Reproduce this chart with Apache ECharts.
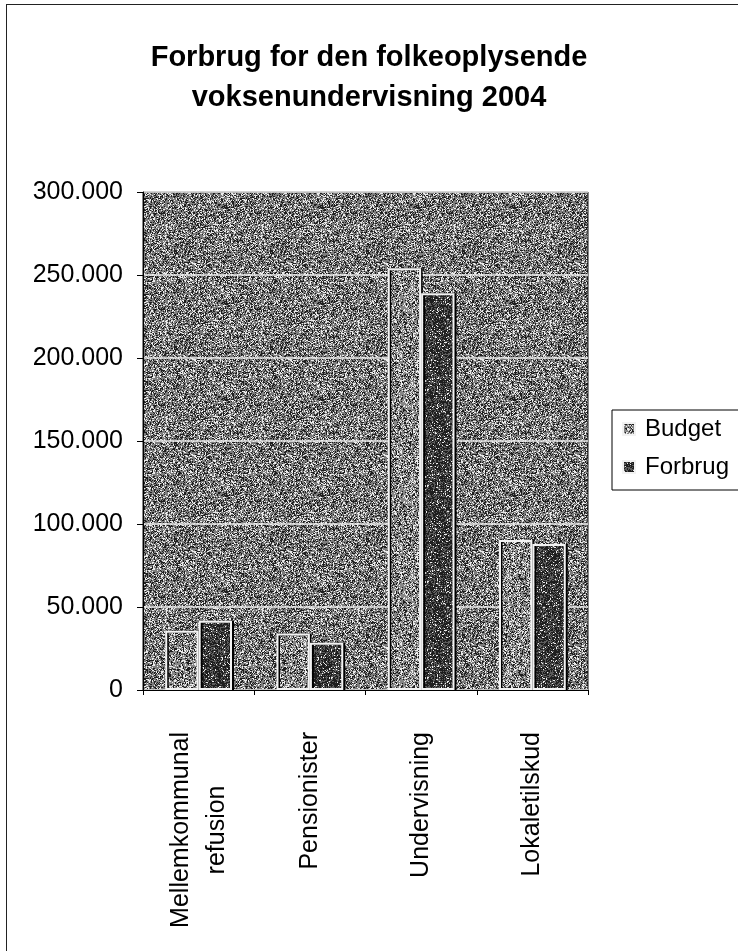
<!DOCTYPE html>
<html><head><meta charset="utf-8">
<script src="https://cdn.jsdelivr.net/npm/echarts@6/dist/echarts.min.js"></script>
<style>
html,body{margin:0;padding:0;background:#fff;overflow:hidden}
#frame{position:absolute;left:6px;top:4px;width:760px;height:980px;border-left:1.5px solid #222;border-top:1.5px solid #222}
#chart{position:absolute;left:0;top:0;width:738px;height:951px}
</style>
</head><body><div id="frame"></div><div id="chart"></div>
<script>
// ---- data ----
const categories = ['Mellemkommunal\nrefusion', 'Pensionister', 'Undervisning', 'Lokaletilskud'];
const seriesNames = ['Budget', 'Forbrug'];
const budget = [35700, 34100, 254000, 90400];
const forbrug = [41700, 28500, 239000, 88000];
const yMin = 0, yMax = 300000, yStep = 50000;
const titleText = 'Forbrug for den folkeoplysende\nvoksenundervisning 2004';

// ---- texture (scan-like halftone) ----
function texture(seed, pBlack, pGray, grayVal) {
  const n = 96;
  const c = document.createElement('canvas'); c.width = c.height = n;
  const ctx = c.getContext('2d'); const img = ctx.createImageData(n, n);
  for (let i = 0; i < n * n; i++) {
    let h = Math.imul(i + seed * 7919, 0x9E3779B1);
    h ^= h >>> 16; h = Math.imul(h, 0x85EBCA6B); h ^= h >>> 13; h = Math.imul(h, 0xC2B2AE35); h ^= h >>> 16;
    const r = (h >>> 0) / 4294967296;
    const v = r < pBlack ? 30 : (r < pBlack + pGray ? grayVal : 235);
    img.data[i*4] = img.data[i*4+1] = img.data[i*4+2] = v; img.data[i*4+3] = 255;
  }
  ctx.putImageData(img, 0, 0);
  return { image: c, repeat: 'repeat' };
}
const bgTex = texture(3, 0.28, 0.50, 125);
const budgetTex = texture(11, 0.25, 0.52, 135);
const forbrugTex = texture(29, 0.56, 0.36, 92);

const FONT = "'Liberation Sans', Arial, sans-serif";
const fmt = v => String(v).replace(/\B(?=(\d{3})+(?!\d))/g, '.');

const chart = echarts.init(document.getElementById('chart'), null, { renderer: 'canvas' });
chart.setOption({
  animation: false,
  title: {
    text: titleText, left: 'center', top: 38, padding: 0,
    textStyle: { fontFamily: FONT, fontSize: 29, fontWeight: 'bold', color: '#000', lineHeight: 40 }
  },
  legend: {
    orient: 'vertical', left: 612, top: 410,
    padding: [6, 40, 10, 10], itemGap: 12,
    borderColor: '#000', borderWidth: 1, backgroundColor: '#fff',
    itemWidth: 12, itemHeight: 12, icon: 'rect',
    textStyle: { fontFamily: FONT, fontSize: 24, color: '#000', lineHeight: 26, padding: [0, 0, 0, 5] },
    data: seriesNames
  },
  grid: {
    left: 143, right: 150, top: 192, bottom: 261,
    show: true, backgroundColor: bgTex, borderColor: '#111', borderWidth: 1, containLabel: false
  },
  xAxis: {
    type: 'category', data: categories,
    axisLine: { lineStyle: { color: '#000', width: 1 } },
    axisTick: { show: true, length: 5, lineStyle: { color: '#000' } },
    axisLabel: {
      interval: 0, rotate: 90, margin: 42, color: '#000',
      formatter: v => v.split('\n').map(l => '{c|' + l + '}').join('\n'),
      rich: { c: { align: 'center', fontFamily: FONT, fontSize: 25, lineHeight: 36, color: '#000' } }
    }
  },
  yAxis: {
    type: 'value', min: yMin, max: yMax, interval: yStep,
    axisLine: { show: true, lineStyle: { color: '#000', width: 1 } },
    axisTick: { show: true, length: 6, lineStyle: { color: '#000' } },
    axisLabel: { margin: 20, fontFamily: FONT, fontSize: 25, color: '#000', formatter: fmt },
    splitLine: { show: true, lineStyle: { color: '#ececec', width: 1.5 } }
  },
  series: [
    {
      name: seriesNames[0], type: 'bar', data: budget,
      barGap: '0%', barCategoryGap: '40%',
      itemStyle: { color: budgetTex, borderColor: '#f2f2f2', borderWidth: 2, shadowColor: '#000', shadowOffsetX: 1.5 }
    },
    {
      name: seriesNames[1], type: 'bar', data: forbrug,
      itemStyle: { color: forbrugTex, borderColor: '#f2f2f2', borderWidth: 2, shadowColor: '#000', shadowOffsetX: 2 }
    }
  ]
});
</script>
</body></html>
